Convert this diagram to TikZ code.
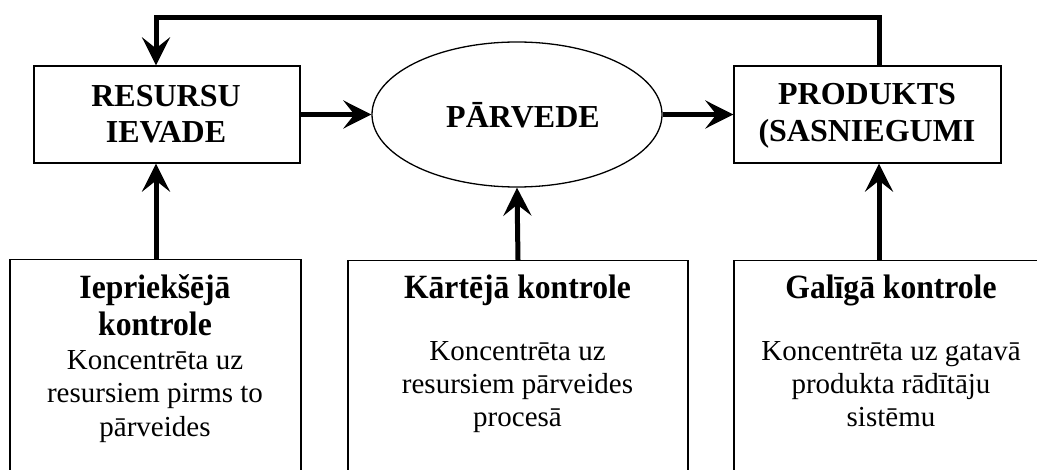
\documentclass[tikz,border=0pt]{standalone}
\usepackage{fontspec}
\setmainfont{Liberation Serif}
\newfontfamily\titlefont[FakeStretch=0.93]{Liberation Serif Bold}
\usetikzlibrary{arrows.meta,shapes.geometric}
\tikzset{
  box/.style={draw, line width=1.3pt, rectangle, inner sep=0pt},
  openbox/.style={draw, line width=1.3pt, rectangle, inner sep=0pt, anchor=north},
  oval/.style={draw, line width=1.3pt, ellipse, inner sep=0pt},
  arr/.style={line width=5pt, line join=miter, -{Stealth[length=28pt,width=28pt,inset=11pt]}},
  heavy/.style={line width=5pt, line join=miter},
  toplabel/.style={font=\fontsize{32}{36}\selectfont\bfseries, anchor=base, inner sep=0pt},
  boxtitle/.style={font=\fontsize{34}{37}\selectfont\titlefont, anchor=base, inner sep=0pt},
  body/.style={font=\fontsize{29}{33}\selectfont, anchor=base, inner sep=0pt}
}
\begin{document}
\begin{tikzpicture}[x=1pt,y=-1pt]
\useasboundingbox (0,0) rectangle (1037,470);
\clip (0,0) rectangle (1037,470);
\fill[white] (0,0) rectangle (1037,470);

% upper row
\node[box, minimum width=266pt, minimum height=97pt] (res) at (167,114.5) {};
\node[oval, minimum width=290pt, minimum height=145pt] (par) at (517,114.5) {};
\node[box, minimum width=267pt, minimum height=97pt] (prod) at (867.5,114.5) {};

\node[toplabel] (resA) at (166,107) {RESURSU};
\node[toplabel] (resB) at (166,143) {IEVADE};
\node[toplabel] (parA) at (523,128) {PĀRVEDE};
\node[toplabel] (prodA) at (867,105) {PRODUKTS};
\node[toplabel] (prodB) at (867,142) {(SASNIEGUMI};

% lower row (open at the bottom)
\node[openbox, minimum width=291pt, minimum height=280pt] (bA) at (155.5,259) {};
\node[openbox, minimum width=340pt, minimum height=280pt] (bB) at (518,260) {};
\node[openbox, minimum width=314pt, minimum height=280pt] (bC) at (891,260) {};

\node[boxtitle] (a1) at (155,299) {Iepriekšējā};
\node[boxtitle] (a2) at (155,336) {kontrole};
\node[body] (a3) at (155,370) {Koncentrēta uz};
\node[body] (a4) at (155,403) {resursiem pirms to};
\node[body] (a5) at (155,436) {pārveides};

\node[boxtitle] (b1) at (517.5,299) {Kārtējā kontrole};
\node[body] (b2) at (517.5,361) {Koncentrēta uz};
\node[body] (b3) at (517.5,394) {resursiem pārveides};
\node[body] (b4) at (517.5,427) {procesā};

\node[boxtitle] (c1) at (891,299) {Galīgā kontrole};
\node[body] (c2) at (891,361) {Koncentrēta uz gatavā};
\node[body] (c3) at (891,394) {produkta rādītāju};
\node[body] (c4) at (891,427) {sistēmu};

% connectors
\coordinate (xL) at (156,18);
\coordinate (xM) at (517,18);
\coordinate (xR) at (879,18);

\draw[arr] (res.east) -- (par.west);
\draw[arr] (par.east) -- (prod.west);
\draw[arr] (xR |- prod.north) -- (xR) -- (xL) -- (xL |- res.north);
\draw[arr] (xL |- bA.north) -- (xL |- res.south);
\draw[arr] (bB.north) -- (par.south);
\draw[arr] (xR |- bC.north) -- (xR |- prod.south);
\end{tikzpicture}
\end{document}
